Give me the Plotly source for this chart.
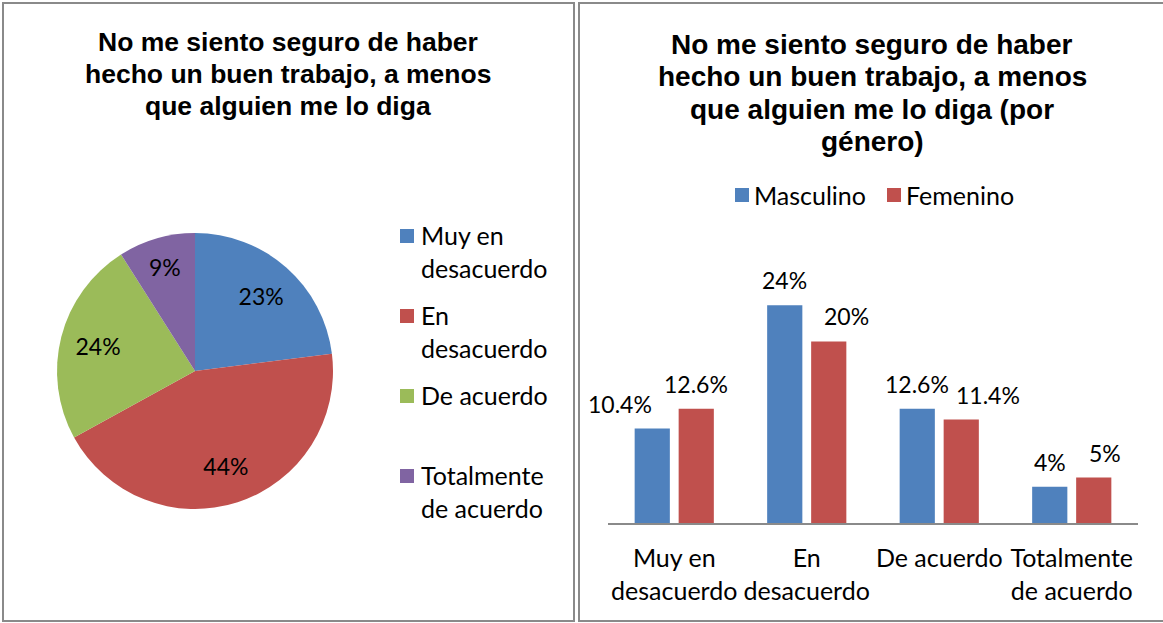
import plotly.graph_objects as go

W, H = 1163, 623

# data
categories = ["Muy en desacuerdo", "En desacuerdo", "De acuerdo", "Totalmente de acuerdo"]
cat_ticks = ["Muy en<br>desacuerdo", "En<br>desacuerdo", "De acuerdo", "Totalmente<br>de acuerdo"]
pie_values = [23, 44, 24, 9]
series = ["Masculino", "Femenino"]
masculino = [10.4, 24, 12.6, 4]
femenino = [12.6, 20, 11.4, 5]

title_left = ["No me siento seguro de haber", "hecho un buen trabajo, a menos",
              "que alguien me lo diga"]
title_right = ["No me siento seguro de haber", "hecho un buen trabajo, a menos",
               "que alguien me lo diga (por", "género)"]

# colors
BLUE, RED, GREEN, PURPLE = "#4F81BD", "#C0504D", "#9BBB59", "#8064A2"
pie_colors = [BLUE, RED, GREEN, PURPLE]
bar_colors = [BLUE, RED]

# label nudges (excel moved some labels sideways)
nudge_m = [-32, 0, 0, 0]
nudge_f = [0, 18, 27, 11]

BODY = "Lato, Calibri, sans-serif"
HEAD = "Liberation Sans, Arial, sans-serif"


def px(x):
    return x / W


def py(y):
    return 1 - y / H


fig = go.Figure()

pie_dom = dict(x=[px(57), px(333)], y=[py(509), py(233)])

# pie (slices only)
fig.add_trace(go.Pie(
    labels=categories,
    values=pie_values,
    sort=False,
    direction="clockwise",
    rotation=0,
    marker=dict(colors=pie_colors, line=dict(width=0)),
    textinfo="none",
    domain=pie_dom,
    showlegend=False,
    hoverinfo="label+percent",
))

# transparent donut on top only to carry the percent labels further out
fig.add_trace(go.Pie(
    labels=categories,
    values=pie_values,
    sort=False,
    direction="clockwise",
    rotation=0,
    hole=0.45,
    marker=dict(colors=["rgba(0,0,0,0)"] * 4, line=dict(width=0)),
    texttemplate="%{percent:.0%}",
    textposition="inside",
    insidetextorientation="horizontal",
    textfont=dict(family=BODY, size=23, color="black"),
    domain=pie_dom,
    showlegend=False,
    hoverinfo="skip",
))

# bars
for name, vals, col in zip(series, [masculino, femenino], bar_colors):
    fig.add_trace(go.Bar(
        x=cat_ticks, y=vals, name=name,
        marker=dict(color=col, line=dict(width=0)),
        showlegend=False,
        hovertemplate="%{y}%<extra>" + name + "</extra>",
    ))

annotations = []

# bar labels
for vals, sign, nudges in [(masculino, -1, nudge_m), (femenino, 1, nudge_f)]:
    for c, v, n in zip(cat_ticks, vals, nudges):
        annotations.append(dict(
            x=c, y=v, xref="x", yref="y",
            text="{:g}%".format(v), showarrow=False,
            xshift=sign * 22 + n, yshift=25, yanchor="middle",
            font=dict(family=BODY, size=23, color="black"),
        ))

# titles, one annotation per line to get excel's tighter leading
for i, line in enumerate(title_left):
    annotations.append(dict(
        x=px(288), y=py(42 + 32 * i), xref="paper", yref="paper",
        text="<b>" + line + "</b>", showarrow=False,
        xanchor="center", yanchor="middle",
        font=dict(family=HEAD, size=26.5, color="black"),
    ))
for i, line in enumerate(title_right):
    annotations.append(dict(
        x=px(872), y=py(44 + 32.5 * i), xref="paper", yref="paper",
        text="<b>" + line + "</b>", showarrow=False,
        xanchor="center", yanchor="middle",
        font=dict(family=HEAD, size=28, color="black"),
    ))

shapes = []

# pie legend (drawn by hand to get excel's even spacing)
leg_y = [236, 316, 396, 476]
for lab, col, yc in zip(cat_ticks, pie_colors, leg_y):
    shapes.append(dict(type="rect", xref="paper", yref="paper",
                       x0=px(400), x1=px(414), y0=py(yc + 7), y1=py(yc - 7),
                       fillcolor=col, line=dict(width=0)))
    annotations.append(dict(
        x=px(419), y=py(yc - 18), xref="paper", yref="paper", text=lab,
        showarrow=False, xanchor="left", yanchor="top", align="left",
        font=dict(family=BODY, size=25, color="black"),
    ))

# bar legend
for lab, col, x0 in zip(series, bar_colors, [735, 887]):
    shapes.append(dict(type="rect", xref="paper", yref="paper",
                       x0=px(x0), x1=px(x0 + 14), y0=py(202), y1=py(188),
                       fillcolor=col, line=dict(width=0)))
    annotations.append(dict(
        x=px(x0 + 17), y=py(195), xref="paper", yref="paper", text=lab,
        showarrow=False, xanchor="left", yanchor="middle",
        font=dict(family=BODY, size=25, color="black"),
    ))

# panel frames
shapes.append(dict(type="rect", xref="paper", yref="paper",
                   x0=px(3), x1=px(574), y0=py(621), y1=py(3),
                   line=dict(color="#8a8a8a", width=2)))
shapes.append(dict(type="rect", xref="paper", yref="paper",
                   x0=px(579), x1=px(1170), y0=py(621), y1=py(3),
                   line=dict(color="#8a8a8a", width=2)))

fig.update_layout(
    width=W, height=H,
    margin=dict(l=0, r=0, t=0, b=0),
    paper_bgcolor="white", plot_bgcolor="white",
    barmode="group", bargap=0.336, bargroupgap=0.2,
    annotations=annotations, shapes=shapes,
    xaxis=dict(
        domain=[px(608), px(1138)], range=[-0.5, 3.5], automargin=False,
        showline=True, linecolor="#8a8a8a", linewidth=2,
        showgrid=False, ticks="", ticklabelstandoff=12,
        tickfont=dict(family=BODY, size=25, color="black"),
        fixedrange=True,
    ),
    yaxis=dict(
        domain=[py(523), py(287)], automargin=False,
        range=[0, 26], visible=False, showgrid=False, zeroline=False,
        fixedrange=True,
    ),
)

fig.write_html("out.html", config={"displayModeBar": False},
               post_script="document.body.style.margin = '0';")
